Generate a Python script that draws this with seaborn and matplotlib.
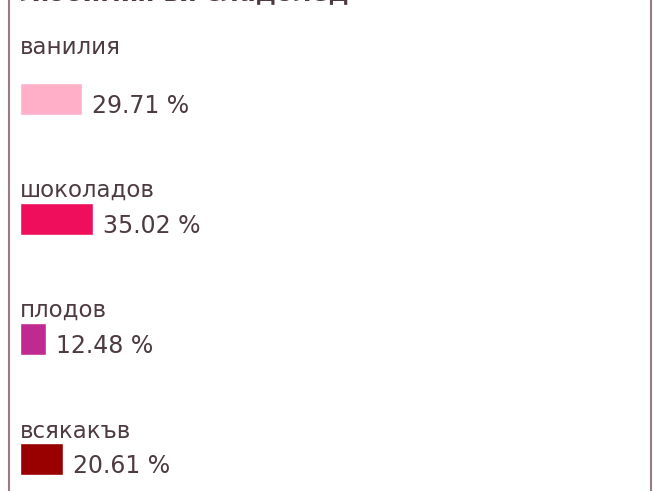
import matplotlib
matplotlib.use("Agg")
import matplotlib.pyplot as plt
import seaborn as sns
from matplotlib.lines import Line2D

# === Data ===
title = "Любимия ви сладолед"
flavours = ["ванилия", "шоколадов", "плодов", "всякакъв"]
shares = [29.71, 35.02, 12.48, 20.61]
bar_colors = ["#ffb0c8", "#ee0e5c", "#c02a90", "#990000"]

# === Layout (pixel based) ===
W, H, DPI = 654, 491, 100
PX_PER_PCT = 2.1
X0 = 19.5        # left edge of bars / labels
ROW0, ROW_STEP = 99, 120
TEXT_COLOR = "#4d3b40"

def px_to_y(py):
    return (py - ROW0) / ROW_STEP

sns.set_theme(style="white")
plt.rcParams["font.family"] = ["DejaVu Sans"]

fig = plt.figure(figsize=(W / DPI, H / DPI), dpi=DPI)
ax = fig.add_axes([0, 0, 1, 1])

sns.barplot(x=shares, y=flavours, hue=flavours, palette=bar_colors,
            legend=False, orient="h", width=32 / ROW_STEP,
            saturation=1, ax=ax)

ax.set_xlim(-X0 / PX_PER_PCT, (W - X0) / PX_PER_PCT)
ax.set_ylim(px_to_y(H), px_to_y(0))
ax.axis("off")

# labels above bars, first one sits a bit higher
label_offsets = [-52, -29, -29, -27]
for i, (name, val) in enumerate(zip(flavours, shares)):
    ax.text(0, i + label_offsets[i] / ROW_STEP, name, fontsize=16.5,
            color=TEXT_COLOR, ha="left", va="center")
    ax.text(val + 10 / PX_PER_PCT, i + 7 / ROW_STEP, f"{val:.2f} %",
            fontsize=17, color=TEXT_COLOR, ha="left", va="center")

# title, mostly cut off at the top edge
ax.text(0, px_to_y(1.5), title, fontsize=18, fontweight="bold",
        color=TEXT_COLOR, ha="left", va="baseline")

# frame lines left and right
for xp in (8.5, 650.5):
    fig.add_artist(Line2D([xp / W, xp / W], [0, 1], color="#9c7a82",
                          lw=1.5, transform=fig.transFigure))

fig.savefig("out.png", dpi=DPI, facecolor="white")
